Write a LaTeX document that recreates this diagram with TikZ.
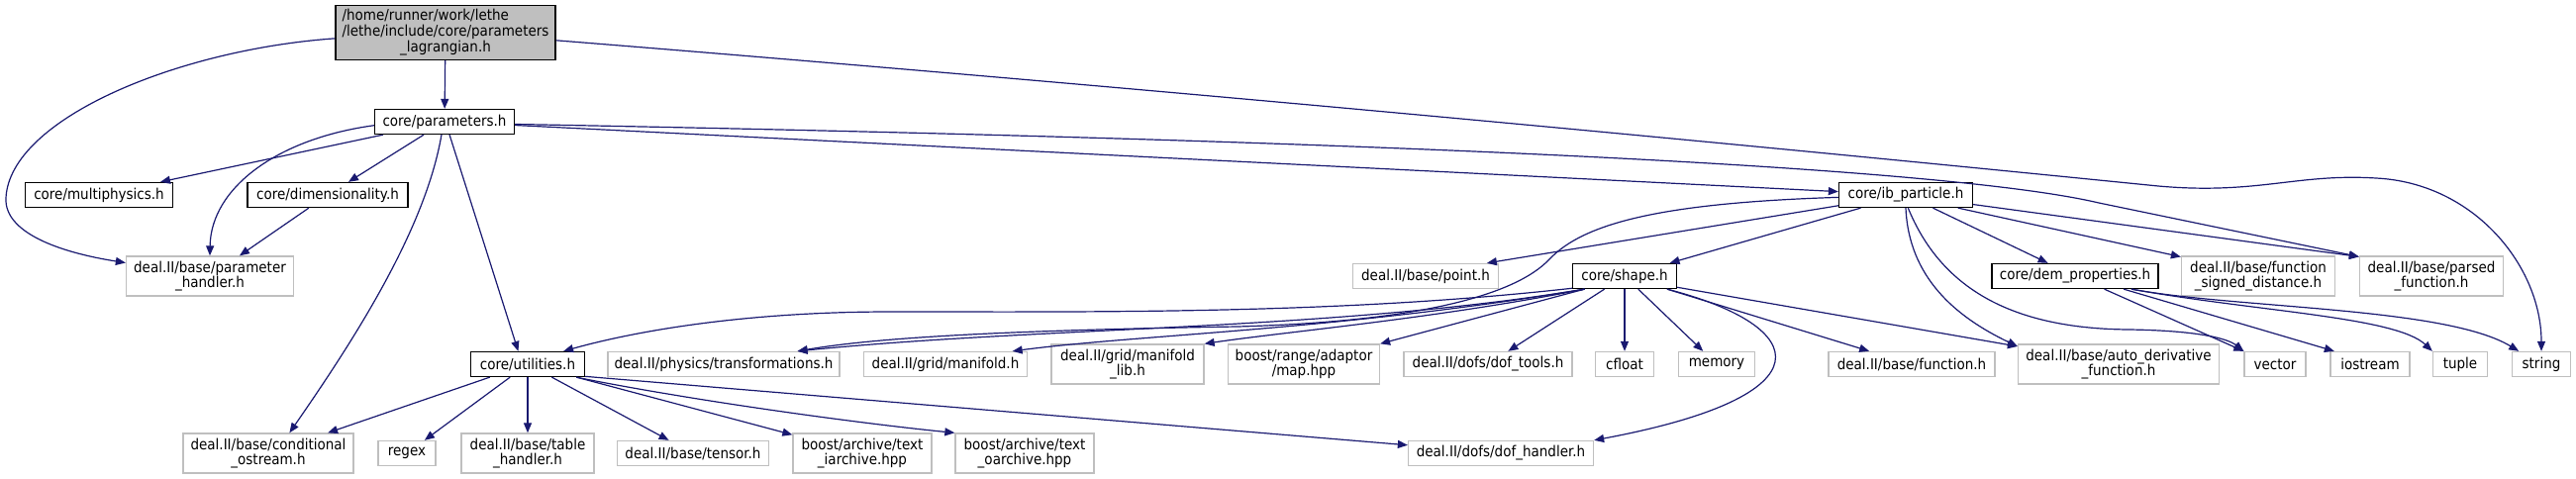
\documentclass[tikz,border=0pt]{standalone}
\usepackage{fontspec}
\setmainfont{DejaVu Sans}[FakeStretch=0.9]
\usetikzlibrary{arrows.meta}

\definecolor{edgeblue}{HTML}{191970}
\definecolor{extgray}{HTML}{BFBFBF}

\tikzset{
  file/.style={draw=black, line width=1.3pt, fill=white, inner sep=0pt,
    minimum height=25pt, align=center, font=\fontsize{15}{15}\selectfont},
  extfile/.style={file, draw=extgray},
  dep/.style={draw=edgeblue, line width=1.2pt, -{Triangle[length=10pt,width=8pt]}},
}

\begin{document}
\begin{tikzpicture}[x=1pt, y=-1pt]
        \useasboundingbox (0,0) rectangle (2602,484);

        % the files of the project
        \node[file, fill=extgray, minimum width=222pt, minimum height=55pt] (main) at (450,33)
            {\begin{tabular}{@{}l@{}}/home/runner/work/lethe\\/lethe/include/core/parameters\\\multicolumn{1}{@{}c@{}}{\_lagrangian.h}\end{tabular}};
        \node[file, minimum width=141pt] (params) at (449,123) {core/parameters.h};
        \node[file, minimum width=149pt] (multi) at (100,197) {core/multiphysics.h};
        \node[file, minimum width=162pt] (dim) at (331,197) {core/dimensionality.h};
        \node[file, minimum width=115pt] (util) at (533,368) {core/utilities.h};
        \node[file, minimum width=135pt] (ibp) at (1925,197) {core/ib\_particle.h};
        \node[file, minimum width=105pt] (shape) at (1641,279) {core/shape.h};
        \node[file, minimum width=168pt] (dem) at (2096,279) {core/dem\_properties.h};

        % the outside headers
        \node[extfile, minimum width=169pt, minimum height=40pt] (phandler) at (212,279) {deal.II/base/parameter\\\_handler.h};
        \node[extfile, minimum width=172pt, minimum height=40pt] (condos) at (271,458) {deal.II/base/conditional\\\_ostream.h};
        \node[extfile, minimum width=58pt] (regex) at (411,458) {regex};
        \node[extfile, minimum width=134pt, minimum height=40pt] (table) at (533,458) {deal.II/base/table\\\_handler.h};
        \node[extfile, minimum width=153pt] (tensor) at (700,458) {deal.II/base/tensor.h};
        \node[extfile, minimum width=140pt, minimum height=40pt] (iarch) at (871,458) {boost/archive/text\\\_iarchive.hpp};
        \node[extfile, minimum width=140pt, minimum height=40pt] (oarch) at (1035,458) {boost/archive/text\\\_oarchive.hpp};
        \node[extfile, minimum width=234pt] (transf) at (731,368) {deal.II/physics/transformations.h};
        \node[extfile, minimum width=165pt] (manif) at (955,368) {deal.II/grid/manifold.h};
        \node[extfile, minimum width=154pt, minimum height=40pt] (maniflib) at (1139,368) {deal.II/grid/manifold\\\_lib.h};
        \node[extfile, minimum width=153pt, minimum height=40pt] (rangemap) at (1317,368) {boost/range/adaptor\\/map.hpp};
        \node[extfile, minimum width=147pt] (point) at (1440,279) {deal.II/base/point.h};
        \node[extfile, minimum width=170pt] (doftools) at (1503,368) {deal.II/dofs/dof\_tools.h};
        \node[extfile, minimum width=59pt] (cfloat) at (1641,368) {cfloat};
        \node[extfile, minimum width=77pt] (memory) at (1734,368) {memory};
        \node[extfile, minimum width=168pt] (func) at (1931,368) {deal.II/base/function.h};
        \node[extfile, minimum width=187pt] (dofh) at (1516,458) {deal.II/dofs/dof\_handler.h};
        \node[extfile, minimum width=155pt, minimum height=40pt] (fsd) at (2281,279) {deal.II/base/function\\\_signed\_distance.h};
        \node[extfile, minimum width=145pt, minimum height=40pt] (parsed) at (2456,279) {deal.II/base/parsed\\\_function.h};
        \node[extfile, minimum width=203pt, minimum height=40pt] (autod) at (2140,368) {deal.II/base/auto\_derivative\\\_function.h};
        \node[extfile, minimum width=62pt] (vector) at (2298,368) {vector};
        \node[extfile, minimum width=80pt] (iostream) at (2394,368) {iostream};
        \node[extfile, minimum width=55pt] (tuple) at (2485,368) {tuple};
        \node[extfile, minimum width=59pt] (strh) at (2567,368) {string};

        % includes of the main file
        \draw[dep] (main) -- (params);
        \draw[dep] (main.183) .. controls (180,50) and (10,120) .. (6,200) .. controls (4,235) and (60,255) .. (phandler.171);
        \draw[dep] (main.-4) .. controls (1300,100) and (1950,165) .. (2180,188) .. controls (2280,197) and (2320,175) .. (2400,180) .. controls (2500,185) and (2567,270) .. (strh.north);

        % includes of core/parameters.h
        \draw[dep] (params) -- (multi);
        \draw[dep] (params) -- (dim);
        \draw[dep] (params.183) .. controls (280,140) and (213,190) .. (phandler.north);
        \draw[dep] (params.257) .. controls (430,230) and (360,340) .. (condos.44);
        \draw[dep] (params.291) -- (util.126);
        \draw[dep] (params) -- (ibp);
        \draw[dep] (params.-2) .. controls (1300,140) and (1950,165) .. (2120,205) -- (parsed.165);
        \draw[dep] (dim) -- (phandler);

        % includes of core/utilities.h
        \draw[dep] (util) -- (condos);
        \draw[dep] (util) -- (regex);
        \draw[dep] (util) -- (table);
        \draw[dep] (util) -- (tensor);
        \draw[dep] (util) -- (iarch);
        \draw[dep] (util.-15) .. controls (700,405) and (870,428) .. (oarch.north west);
        \draw[dep] (util.-12) -- (dofh.175);

        % includes of core/shape.h
        \draw[dep] (shape.193) .. controls (1350,318) and (1100,315) .. (900,315) .. controls (750,315) and (640,335) .. (util.20);
        \draw[dep] (shape.198) .. controls (1350,334) and (1050,330) .. (transf.10);
        \draw[dep] (shape.198) .. controls (1350,334) and (1150,338) .. (manif.11);
        \draw[dep] (shape.198) .. controls (1450,322) and (1300,335) .. (maniflib.north east);
        \draw[dep] (shape.198) -- (rangemap.north east);
        \draw[dep] (shape) -- (doftools);
        \draw[dep] (shape) -- (cfloat);
        \draw[dep] (shape) -- (memory);
        \draw[dep] (shape) -- (func);
        \draw[dep] (shape.-12) -- (autod.170);
        \draw[dep] (shape.-17) .. controls (1830,330) and (1850,400) .. (dofh.north east);

        % includes of core/ib_particle.h
        \draw[dep] (ibp.182) .. controls (1680,205) and (1600,225) .. (1565,262) .. controls (1530,299) and (1430,325) .. (1250,330) .. controls (1000,334) and (880,342) .. (transf.10);
        \draw[dep] (ibp.189) -- (point.12);
        \draw[dep] (ibp) -- (shape);
        \draw[dep] (ibp) -- (dem);
        \draw[dep] (ibp.-14) -- (fsd.166);
        \draw[dep] (ibp.-8) -- (parsed.165);
        \draw[dep] (ibp.south) .. controls (1928,280) and (1975,320) .. (autod.170);
        \draw[dep] (ibp.-80) .. controls (1960,290) and (2030,332) .. (2150,333) .. controls (2220,334) and (2250,342) .. (vector.north west);

        % includes of core/dem_properties.h
        \draw[dep] (dem.-24) -- (vector.north west);
        \draw[dep] (dem.-15) -- (iostream.160);
        \draw[dep] (dem.-13) .. controls (2280,315) and (2420,320) .. (tuple.north west);
        \draw[dep] (dem.-13) .. controls (2260,312) and (2470,310) .. (strh.150);
\end{tikzpicture}
\end{document}
